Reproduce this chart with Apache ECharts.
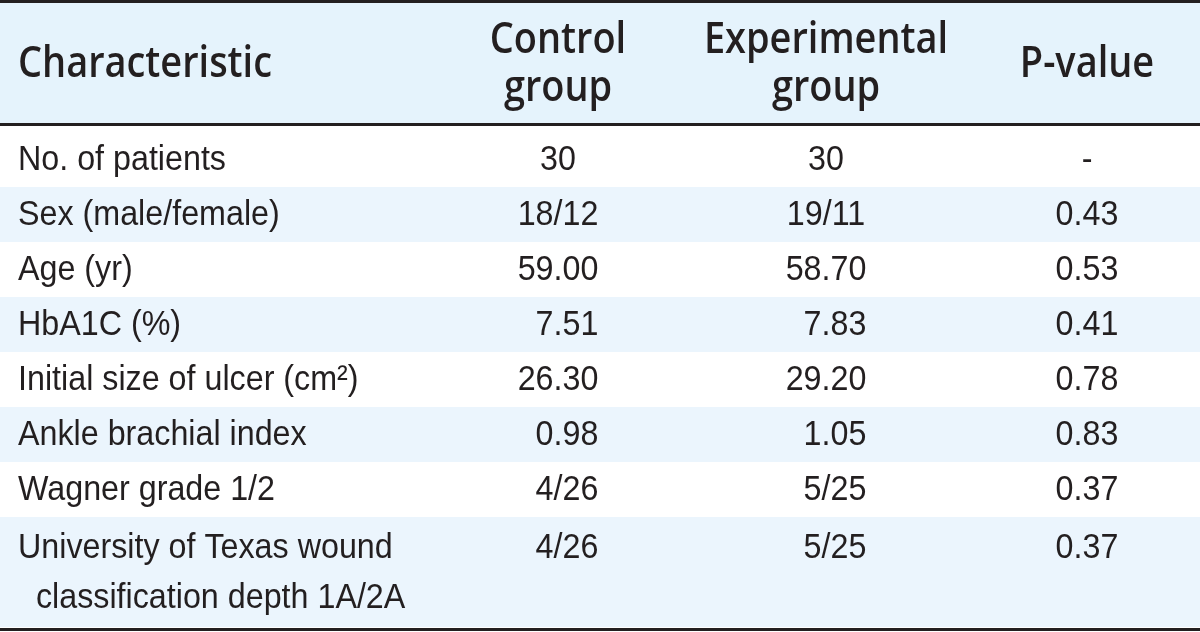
<!DOCTYPE html>
<html><head><meta charset="utf-8">
<script src="https://cdn.jsdelivr.net/npm/echarts@6/dist/echarts.min.js"></script>
<style>html,body{margin:0;padding:0;background:#fff}#chart{width:1200px;height:632px}</style>
</head><body><div id="chart"></div>
<script>
// ---- data ----
const headers = ['Characteristic', 'Control\ngroup', 'Experimental\ngroup', 'P-value'];
const characteristics = [
  'No. of patients',
  'Sex (male/female)',
  'Age (yr)',
  'HbA1C (%)',
  'Initial size of ulcer (cm\u00B2)',
  'Ankle brachial index',
  'Wagner grade 1/2',
  'University of Texas wound\nclassification depth 1A/2A'
];
const controlGroup = ['30', '18/12', '59.00', '7.51', '26.30', '0.98', '4/26', '4/26'];
const experimentalGroup = ['30', '19/11', '58.70', '7.83', '29.20', '1.05', '5/25', '5/25'];
const pValues = ['-', '0.43', '0.53', '0.41', '0.78', '0.83', '0.37', '0.37'];

// ---- layout & style ----
const W = 1200, H = 632;
const INK = '#231f20', HEADER_BG = '#e5f3fc', STRIPE_BG = '#ebf5fd';
const RULE = 3;
const HEADER_TOP = 3, HEADER_BOTTOM = 123, FIRST_ROW_TOP = 132, ROW_PITCH = 55;
const HEAD_LINE_PITCH = 48, BODY_LINE_PITCH = 50;
const colAnchor = [18, 558, 826, 1087];
const colAlign = ['left', 'center', 'center', 'center'];
const BODY_FONT = '35px "Liberation Sans", Arial, sans-serif';
const HEAD_FONT = '600 44px "Open Sans", sans-serif';
const V_NUDGE = 1;

const ctx = document.createElement('canvas').getContext('2d');
function measure(t, f) { ctx.font = f; return ctx.measureText(t).width; }
const bodySX = 208 / measure('No. of patients', BODY_FONT);
const headSX = 254 / measure('Characteristic', HEAD_FONT);
const digitW = measure('0', BODY_FONT) * bodySX;

const rowLines = characteristics.map(s => s.split('\n').length);
const rowTop = [];
rowLines.reduce((acc, n, i) => { rowTop[i] = acc; return acc + n * ROW_PITCH; }, FIRST_ROW_TOP);
const rowsBottom = rowTop[rowTop.length - 1] + rowLines[rowLines.length - 1] * ROW_PITCH;
const columns = [characteristics, controlGroup, experimentalGroup, pValues];

function textEl(x, y, text, font, sx, align) {
  return {
    type: 'text', x: x, y: y, scaleX: sx,
    style: { text: text, x: 0, y: 0, font: font, fill: INK,
      align: align, verticalAlign: 'middle', textAlign: align, textVerticalAlign: 'middle' }
  };
}

const chart = echarts.init(document.getElementById('chart'), null, { renderer: 'canvas' });
chart.setOption({
  animation: false,
  backgroundColor: '#fff',
  grid: { left: 0, right: 0, top: 0, bottom: 0 },
  xAxis: { type: 'value', min: 0, max: W, show: false },
  yAxis: { type: 'value', min: 0, max: H, inverse: true, show: false },
  series: [
    { // row backgrounds
      type: 'custom', silent: true, clip: false,
      data: characteristics.map((_, i) => [i]),
      renderItem: function (params, api) {
        const i = api.value(0);
        if (i % 2 === 0) return { type: 'group', children: [] };
        const p0 = api.coord([0, rowTop[i]]);
        const p1 = api.coord([W, rowTop[i] + rowLines[i] * ROW_PITCH]);
        return { type: 'rect', shape: { x: p0[0], y: p0[1], width: p1[0] - p0[0], height: p1[1] - p0[1] },
          style: { fill: STRIPE_BG } };
      }
    },
    { // header band + rules
      type: 'custom', silent: true, clip: false,
      data: [[0]],
      renderItem: function (params, api) {
        const a = api.coord([0, 0]), b = api.coord([W, HEADER_TOP]);
        const c = api.coord([0, HEADER_BOTTOM]), d = api.coord([0, rowsBottom]);
        const w = b[0] - a[0];
        return { type: 'group', children: [
          { type: 'rect', shape: { x: a[0], y: b[1], width: w, height: c[1] - b[1] }, style: { fill: HEADER_BG } },
          { type: 'rect', shape: { x: a[0], y: a[1], width: w, height: RULE }, style: { fill: INK } },
          { type: 'rect', shape: { x: a[0], y: c[1], width: w, height: RULE }, style: { fill: INK } },
          { type: 'rect', shape: { x: a[0], y: d[1] + 1, width: w, height: RULE }, style: { fill: INK } }
        ] };
      }
    },
    { // header text
      type: 'custom', silent: true, clip: false,
      data: headers.map((_, c) => [c]),
      renderItem: function (params, api) {
        const c = api.value(0);
        const lines = headers[c].split('\n');
        const mid = (HEADER_TOP + HEADER_BOTTOM) / 2;
        const first = mid - (lines.length - 1) * HEAD_LINE_PITCH / 2;
        return { type: 'group', children: lines.map((ln, k) => {
          const p = api.coord([colAnchor[c], first + k * HEAD_LINE_PITCH]);
          return textEl(p[0], p[1] + V_NUDGE, ln, HEAD_FONT, headSX, colAlign[c]);
        }) };
      }
    },
    { // body cells
      type: 'custom', silent: true, clip: false,
      data: characteristics.flatMap((_, r) => columns.map((__, c) => [c, r])),
      renderItem: function (params, api) {
        const c = api.value(0), r = api.value(1);
        const lines = columns[c][r].split('\n');
        const mid = rowTop[r] + rowLines[r] * ROW_PITCH / 2;
        const first = mid - (rowLines[r] - 1) * BODY_LINE_PITCH / 2;
        return { type: 'group', children: lines.map((ln, k) => {
          const p = api.coord([colAnchor[c], first + k * BODY_LINE_PITCH]);
          let x = p[0];
          if (c === 0 && k > 0) x += digitW; // hanging indent
          if ((c === 1 || c === 2) && ln.length === 4) x += digitW / 2; // figure-space alignment
          return textEl(x, p[1] + V_NUDGE, ln, BODY_FONT, bodySX, colAlign[c]);
        }) };
      }
    }
  ]
});
</script></body></html>
